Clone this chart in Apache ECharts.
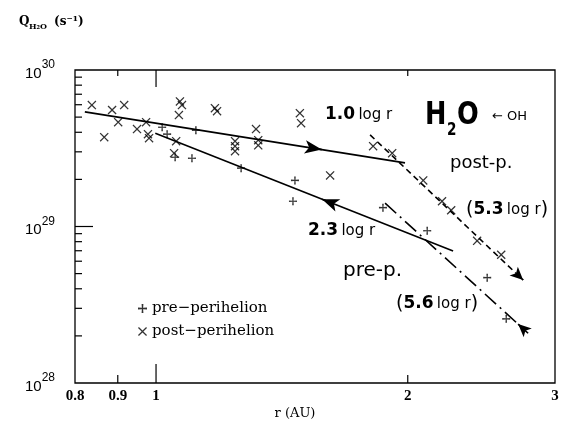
<!DOCTYPE html>
<html>
<head>
<meta charset="utf-8">
<script src="https://cdn.jsdelivr.net/npm/echarts@6/dist/echarts.min.js"></script>
<style>
  html, body { margin: 0; padding: 0; background: #fff; }
  #chart { width: 566px; height: 423px; }
</style>
</head>
<body>
<div id="chart"></div>
<script>
// heliocentric distance r (AU) and water production rate Q (s^-1)
const preR  = [1.017, 1.031, 1.054, 1.104, 1.116, 1.264, 1.458, 1.466, 1.868, 2.110, 2.489, 2.623];
const preQ  = [4.31e29, 3.89e29, 2.77e29, 2.73e29, 4.12e29, 2.36e29, 1.45e29, 1.97e29, 1.32e29, 9.4e28, 4.71e28, 2.57e28];
const postR = [0.838, 0.867, 0.886, 0.901, 0.916, 0.949, 0.973, 0.978, 0.981,
               1.051, 1.057, 1.065, 1.068, 1.074, 1.176, 1.183, 1.243, 1.243, 1.243,
               1.317, 1.325, 1.325, 1.486, 1.491, 1.615, 1.818, 1.916,
               2.087, 2.198, 2.254, 2.421, 2.587];
const postQ = [5.97e29, 3.72e29, 5.55e29, 4.64e29, 5.97e29, 4.19e29, 4.64e29, 3.89e29, 3.67e29,
               2.94e29, 3.51e29, 5.15e29, 6.3e29, 5.97e29, 5.70e29, 5.46e29, 3.51e29, 3.26e29, 3.03e29,
               4.19e29, 3.56e29, 3.30e29, 5.30e29, 4.57e29, 2.12e29, 3.26e29, 2.94e29,
               1.97e29, 1.45e29, 1.27e29, 8.1e28, 6.6e28];

// power-law fits, end points
const fit10R = [0.822, 1.985];  const fit10Q = [5.4e29, 2.55e29];   // 1.0 log r  (post)
const fit23R = [0.998, 2.266];  const fit23Q = [3.95e29, 6.97e28];  // 2.3 log r  (pre)
const fit53R = [1.803, 2.748];  const fit53Q = [3.85e29, 4.55e28];  // 5.3 log r  (post)
const fit56R = [1.879, 2.786];  const fit56Q = [1.41e29, 2.08e28];  // 5.6 log r  (pre)

// axis ticks
const xLabels = [0.8, 0.9, 1, 2, 3];
const xMajorTicks = [1];
const xMinorTicks = [0.9, 2];
const yMajorTicks = [1e29];
const yDecades = [1e28, 1e29];

const plusPath = 'path://M4,0L6,0L5.7,4.3L10,4L10,6L5.7,5.7L6,10L4,10L4.3,5.7L0,6L0,4L4.3,4.3Z';
const crossPath = 'path://M1,0L5,4L9,0L10,1L6,5L10,9L9,10L5,6L1,10L0,9L4,5L0,1Z';

const chart = echarts.init(document.getElementById('chart'));

const lg = Math.log10;
function along(rs, qs, t) {
  return [Math.pow(10, lg(rs[0]) + (lg(rs[1]) - lg(rs[0])) * t),
          Math.pow(10, lg(qs[0]) + (lg(qs[1]) - lg(qs[0])) * t)];
}
// the arrow head is the end symbol of a short markLine laid on the fit
function fitSeries(rs, qs, dash, tFrom, tTo, arrowSize) {
  return {
    type: 'line',
    data: rs.map((r, i) => [r, qs[i]]),
    symbol: 'none',
    silent: true,
    lineStyle: { color: '#000', width: 1.6, type: dash },
    markLine: {
      silent: true,
      symbol: ['none', 'arrow'],
      symbolSize: arrowSize,
      label: { show: false },
      lineStyle: { color: '#000', width: 1.6, type: 'solid' },
      data: [[{ coord: along(rs, qs, tFrom) }, { coord: along(rs, qs, tTo) }]]
    }
  };
}

const option = {
  animation: false,
  grid: { left: 75, right: 11, top: 70, bottom: 40, show: true, borderColor: '#000', borderWidth: 1.3 },
  legend: {
    left: 133, top: 296, orient: 'vertical', itemWidth: 9, itemHeight: 9, itemGap: 8,
    textStyle: { fontFamily: 'DejaVu Serif', fontSize: 15, color: '#000' },
    data: [{ name: 'pre\u2212perihelion', icon: plusPath }, { name: 'post\u2212perihelion', icon: crossPath }]
  },
  xAxis: {
    type: 'log', logBase: 10, min: 0.8, max: 3,
    axisLine: { show: false }, axisTick: { show: false }, axisLabel: { show: false }, splitLine: { show: false }
  },
  yAxis: {
    type: 'log', logBase: 10, min: 1e28, max: 1e30, splitNumber: 2,
    axisLine: { show: false }, axisTick: { show: false }, splitLine: { show: false },
    axisLabel: {
      margin: 20, color: '#000',
      rich: {
        b: { fontFamily: 'Liberation Sans', fontSize: 15, color: '#000', lineHeight: 22, verticalAlign: 'bottom' },
        s: { fontFamily: 'Liberation Sans', fontSize: 12, color: '#000', lineHeight: 22, verticalAlign: 'top' }
      },
      formatter: v => {
        const e = Math.round(lg(v));
        if (Math.abs(lg(v) - e) > 1e-6) return '';
        return '{b|10}{s|' + e + '}';
      }
    }
  },
  series: [
    fitSeries(fit10R, fit10Q, 'solid', 0.70, 0.74, [10, 17]),
    fitSeries(fit23R, fit23Q, 'solid', 0.60, 0.56, [10, 17]),
    fitSeries(fit53R, fit53Q, [6, 4], 0.96, 1, [9, 13]),
    fitSeries(fit56R, fit56Q, [15, 5, 2, 5], 0.97, 0.93, [9, 13]),
    {
      name: 'pre\u2212perihelion', type: 'scatter', symbol: plusPath, symbolSize: 8,
      itemStyle: { color: '#000' },
      data: preR.map((r, i) => [r, preQ[i]])
    },
    {
      name: 'post\u2212perihelion', type: 'scatter', symbol: crossPath, symbolSize: 9,
      itemStyle: { color: '#000' },
      data: postR.map((r, i) => [r, postQ[i]])
    }
  ]
};
chart.setOption(option);

// ticks and labels placed through the axis scales
const px = (x, y) => chart.convertToPixel({ gridIndex: 0 }, [x, y]);
const [gx0, gyB] = px(0.8, 1e28);
const [gx1, gyT] = px(3, 1e30);
const tick = (x1, y1, x2, y2) => ({ type: 'line', silent: true, shape: { x1, y1, x2, y2 }, style: { stroke: '#000', lineWidth: 1.2 } });
const txt = (x, y, text, s) => ({ type: 'text', x, y, silent: true,
  style: Object.assign({ text, fill: '#000', align: 'left', verticalAlign: 'middle' }, s) });

const g = [];
xMajorTicks.forEach(v => { const x = px(v, 1e29)[0]; g.push(tick(x, gyB, x, gyB - 19), tick(x, gyT, x, gyT + 17)); });
xMinorTicks.forEach(v => { const x = px(v, 1e29)[0]; g.push(tick(x, gyB, x, gyB - 8), tick(x, gyT, x, gyT + 6)); });
yMajorTicks.forEach(v => { const y = px(1, v)[1]; g.push(tick(gx0, y, gx0 + 18, y)); });
yDecades.forEach(d => { for (let k = 2; k <= 9; k++) { const y = px(1, k * d)[1]; g.push(tick(gx0, y, gx0 + 7, y)); } });
xLabels.forEach(v => {
  const x = px(v, 1e29)[0];
  g.push(txt(x, gyB + 13, String(v), { align: 'center', fontFamily: 'Liberation Serif', fontWeight: 'bold', fontSize: 15 }));
});

const serifB = { fontFamily: 'DejaVu Serif', fontWeight: 'bold' };
const hand = {
  rich: {
    n: { fontFamily: 'DejaVu Sans', fontWeight: 'bold', fontSize: 17 },
    l: { fontFamily: 'DejaVu Sans', fontSize: 15 },
    p: { fontFamily: 'DejaVu Sans', fontSize: 19 }
  }
};
g.push(
  txt(295, gyB + 31, 'r (AU)', { align: 'center', fontFamily: 'DejaVu Serif', fontSize: 13 }),
  txt(19, 22, 'Q', Object.assign({ fontSize: 12 }, serifB)),
  txt(29, 27, 'H\u2082O', Object.assign({ fontSize: 8 }, serifB)),
  txt(54, 22, '(s\u207b\u00b9)', Object.assign({ fontSize: 12 }, serifB)),
  txt(325, 115, '{n|1.0} {l|log r}', hand),
  txt(308, 231, '{n|2.3} {l|log r}', hand),
  txt(466, 210, '{p|(}{n|5.3} {l|log r}{p|)}', hand),
  txt(396, 304, '{p|(}{n|5.6} {l|log r}{p|)}', hand),
  txt(450, 163, 'post-p.', { fontFamily: 'DejaVu Sans', fontSize: 18 }),
  txt(343, 271, 'pre-p.', { fontFamily: 'DejaVu Sans', fontSize: 20 }),
  { type: 'text', x: 425, y: 116, scaleX: 0.8, silent: true,
    style: { text: 'H', fill: '#000', fontFamily: 'DejaVu Sans', fontWeight: 'bold', fontSize: 32, verticalAlign: 'middle' } },
  { type: 'text', x: 447, y: 131, scaleX: 0.8, silent: true,
    style: { text: '2', fill: '#000', fontFamily: 'DejaVu Sans', fontWeight: 'bold', fontSize: 17, verticalAlign: 'middle' } },
  { type: 'text', x: 457, y: 116, scaleX: 0.8, silent: true,
    style: { text: 'O', fill: '#000', fontFamily: 'DejaVu Sans', fontWeight: 'bold', fontSize: 32, verticalAlign: 'middle' } },
  txt(492, 117, '\u2190 OH', { fontFamily: 'DejaVu Sans', fontSize: 13 })
);
chart.setOption({ graphic: g });
</script>
</body>
</html>
